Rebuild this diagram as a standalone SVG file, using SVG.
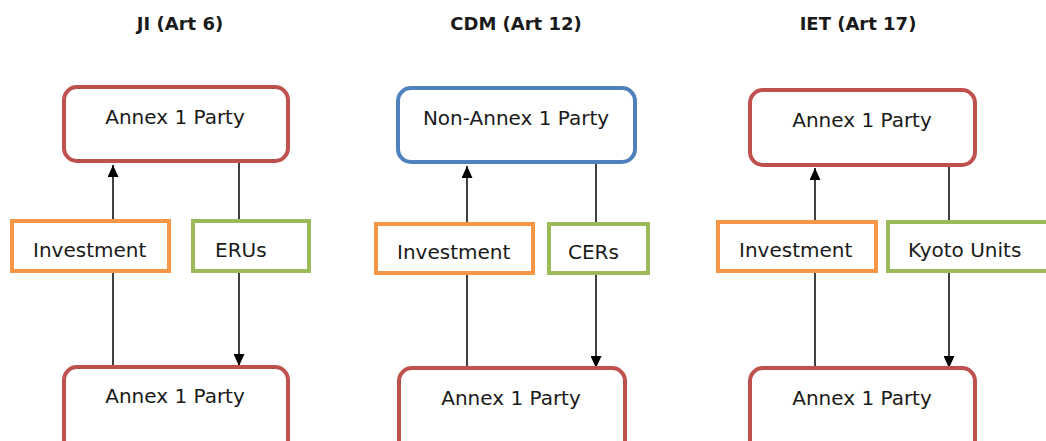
<svg xmlns="http://www.w3.org/2000/svg" width="1046" height="441" viewBox="0 0 1046 441">
<style>
.title{font-family:"DejaVu Sans",sans-serif;font-weight:bold;font-size:18px;fill:#1a1a1a;text-anchor:middle}
.lbl{font-family:"DejaVu Sans",sans-serif;font-size:20px;fill:#1a1a1a}
.mid{text-anchor:middle}
.party{fill:#fff;stroke:#c0504d;stroke-width:4}
.blue{fill:#fff;stroke:#4f81bd;stroke-width:4}
.inv{fill:#fff;stroke:#f79646;stroke-width:4}
.unit{fill:#fff;stroke:#9bbb59;stroke-width:4}
.conn{stroke:#000;stroke-width:1.5;fill:none}
</style>
<defs>
<marker id="arr" markerUnits="userSpaceOnUse" markerWidth="12" markerHeight="11" refX="12" refY="5.5" orient="auto" viewBox="0 0 12 11">
<path d="M0,0 L12,5.5 L0,11 Z" fill="#000"/>
</marker>
</defs>
<rect width="1046" height="441" fill="#fff"/>
<g id="titles">
<text class="title" x="180" y="30">JI (Art 6)</text>
<text class="title" x="516" y="30">CDM (Art 12)</text>
<text class="title" x="858" y="30">IET (Art 17)</text>
</g>
<g id="connectors">
<line class="conn" x1="113" y1="366" x2="113" y2="165" marker-end="url(#arr)"/>
<line class="conn" x1="239" y1="163" x2="239" y2="366" marker-end="url(#arr)"/>
<line class="conn" x1="467" y1="367" x2="467" y2="166" marker-end="url(#arr)"/>
<line class="conn" x1="596" y1="164" x2="596" y2="368" marker-end="url(#arr)"/>
<line class="conn" x1="815" y1="367" x2="815" y2="168" marker-end="url(#arr)"/>
<line class="conn" x1="949" y1="167" x2="949" y2="368" marker-end="url(#arr)"/>
</g>
<g id="ji-top"><rect class="party" x="64" y="87" width="224" height="74" rx="13"/><text class="lbl mid" x="175" y="124">Annex 1 Party</text></g>
<g id="ji-bottom"><rect class="party" x="64" y="367" width="224" height="90" rx="13"/><text class="lbl mid" x="175" y="403">Annex 1 Party</text></g>
<g id="ji-investment"><rect class="inv" x="12" y="221" width="157" height="50"/><text class="lbl" x="33" y="257">Investment</text></g>
<g id="ji-erus"><rect class="unit" x="193" y="221" width="116" height="50"/><text class="lbl" x="215" y="257">ERUs</text></g>
<g id="cdm-top"><rect class="blue" x="398" y="88" width="237" height="74" rx="13"/><text class="lbl mid" x="516" y="125">Non-Annex 1 Party</text></g>
<g id="cdm-bottom"><rect class="party" x="399" y="368" width="226" height="90" rx="13"/><text class="lbl mid" x="511" y="405">Annex 1 Party</text></g>
<g id="cdm-investment"><rect class="inv" x="376" y="224" width="157" height="49"/><text class="lbl" x="397" y="259">Investment</text></g>
<g id="cdm-cers"><rect class="unit" x="549" y="224" width="99" height="49"/><text class="lbl" x="568" y="259">CERs</text></g>
<g id="iet-top"><rect class="party" x="750" y="90" width="225" height="75" rx="13"/><text class="lbl mid" x="862" y="127">Annex 1 Party</text></g>
<g id="iet-bottom"><rect class="party" x="750" y="368" width="225" height="90" rx="13"/><text class="lbl mid" x="862" y="405">Annex 1 Party</text></g>
<g id="iet-investment"><rect class="inv" x="718" y="222" width="158" height="49"/><text class="lbl" x="739" y="257">Investment</text></g>
<g id="iet-kyoto"><rect class="unit" x="888" y="222" width="170" height="49"/><text class="lbl" x="908" y="257">Kyoto Units</text></g>
</svg>
